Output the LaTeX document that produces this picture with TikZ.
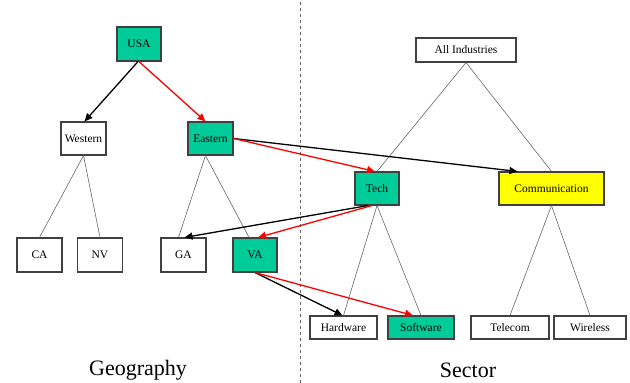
\documentclass[tikz,border=0pt]{standalone}
\usepackage{fontspec}
\setmainfont{Liberation Serif}
\usetikzlibrary{arrows.meta,calc}

\definecolor{sel}{RGB}{0,204,153}
\definecolor{hi}{RGB}{255,255,0}

\begin{document}
\begin{tikzpicture}[x=1pt, y=1pt, >={Triangle[length=8pt,width=7pt]},
    box/.style={draw=black!75, line width=1.1pt, fill=white, inner sep=0pt, font=\fontsize{11.5}{13}\selectfont},
    pick/.style={box, fill=sel},
    tree/.style={black!60, line width=0.6pt},
    roll/.style={->, line width=1.3pt, black},
    path/.style={->, line width=1.3pt, red},
    dim/.style={font=\fontsize{22}{26}\selectfont}]
  \useasboundingbox (0,0) rectangle (630,383);
  % ---------------- geography hierarchy ----------------
  \node[pick, minimum width=44, minimum height=34] (USA) at (139,339) {USA};
  \node[box, minimum width=45, minimum height=33] (Western) at (83.5,244.5) {Western};
  \node[pick, minimum width=45, minimum height=33] (Eastern) at (210.5,244.5) {Eastern};
  \node[box, minimum width=45, minimum height=34] (CA) at (39.5,128) {CA};
  \node[box, minimum width=45, minimum height=34] (NV) at (100,128) {NV};
  \node[box, minimum width=45, minimum height=34] (GA) at (183.5,128) {GA};
  \node[pick, minimum width=44, minimum height=34] (VA) at (255,128) {VA};
  \draw[tree] (Western.south) -- (CA.north);
  \draw[tree] (Western.south) -- (NV.north);
  \draw[tree] ($(Eastern.south)+(-5,0)$) -- ($(GA.north)+(-5,0)$);
  \draw[tree] ($(Eastern.south)+(-5,0)$) -- ($(VA.north)+(-6,0)$);
  \node[dim] (geo) at (138,13) {Geography};
  % ---------------- separator ----------------
  \draw[black!60, dashed, line width=0.6pt] (300,0) -- (300,383);
  % ---------------- sector hierarchy ----------------
  \node[box, minimum width=100, minimum height=24] (All) at (466,333) {All Industries};
  \node[pick, minimum width=44, minimum height=33] (Tech) at (377,194.5) {Tech};
  \node[box, fill=hi, minimum width=105, minimum height=33] (Comm) at (551.5,194.5) {Communication};
  \node[box, minimum width=67, minimum height=23] (Hard) at (343.5,55.5) {Hardware};
  \node[pick, minimum width=66, minimum height=23] (Soft) at (421,55.5) {Software};
  \node[box, minimum width=78, minimum height=23] (Tele) at (510,55.5) {Telecom};
  \node[box, minimum width=72, minimum height=23] (Wire) at (590,55.5) {Wireless};
  \draw[tree] (All.south) -- (Tech.north);
  \draw[tree] (All.south) -- (Comm.north);
  \draw[tree] (Tech.south) -- (Hard.north);
  \draw[tree] (Tech.south) -- (Soft.north);
  \draw[tree] (Comm.south) -- (Tele.north);
  \draw[tree] (Comm.south) -- (Wire.north);
  \node[dim] (sec) at (468,13) {Sector};
  % ---------------- roll-up paths ----------------
  \draw[roll] ($(USA.south)+(-1,0)$) -- ($(Western.north)+(1,0)$);
  \draw[path] (USA.south) -- ($(Eastern.north)+(-5,0)$);
  \draw[roll] (Eastern.east) -- ($(Comm.north west)+(19,0)$);
  \draw[path] (Eastern.east) -- ($(Tech.north)+(-2,0)$);
  \draw[roll] ($(Tech.south)+(-9,0)$) -- ($(GA.north)+(1,0)$);
  \draw[path] ($(Tech.south)+(-5,0)$) -- ($(VA.north)+(3,0)$);
  \draw[roll] (VA.south) -- ($(Hard.north)+(-1,0)$);
  \draw[path] (VA.south) -- ($(Soft.north)+(-8,0)$);
\end{tikzpicture}
\end{document}
